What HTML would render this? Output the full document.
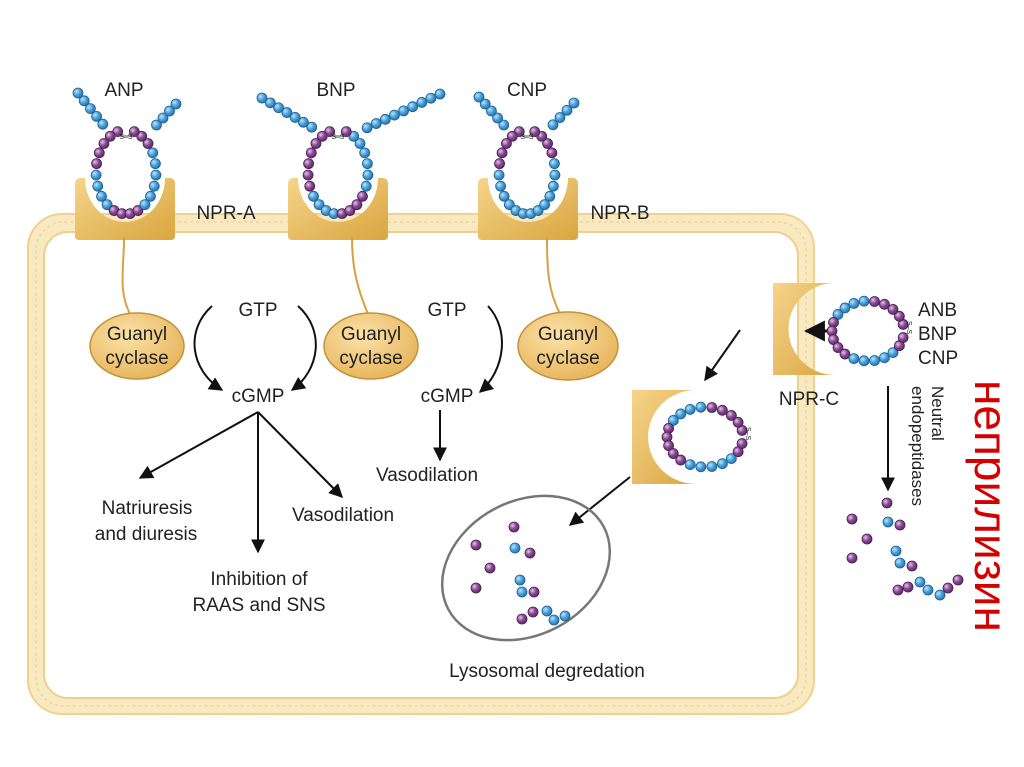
<!DOCTYPE html>
<html><head><meta charset="utf-8"><style>
html,body{margin:0;padding:0;background:#fff;width:1024px;height:767px;overflow:hidden}
svg{display:block}
text{font-family:"Liberation Sans",sans-serif;fill:#222}
</style></head><body>
<svg id="s" width="1024" height="767" viewBox="0 0 1024 767" xmlns="http://www.w3.org/2000/svg">
<defs>
<linearGradient id="g" x1="0" y1="0" x2="1" y2="1"><stop offset="0" stop-color="#f6d48a"/><stop offset="1" stop-color="#d9a640"/></linearGradient>
<radialGradient id="gc" cx="0.4" cy="0.35" r="0.7"><stop offset="0" stop-color="#fbe3a8"/><stop offset="1" stop-color="#e6b35a"/></radialGradient>
<radialGradient id="bb" cx="0.35" cy="0.35" r="0.7"><stop offset="0" stop-color="#bfe6fa"/><stop offset="0.5" stop-color="#4aa3dc"/><stop offset="1" stop-color="#2570a8"/></radialGradient>
<radialGradient id="pb" cx="0.35" cy="0.35" r="0.7"><stop offset="0" stop-color="#e6c6e6"/><stop offset="0.5" stop-color="#8a4a94"/><stop offset="1" stop-color="#5a2a66"/></radialGradient>
<marker id="ar" viewBox="0 0 10 10" refX="9" refY="5" markerWidth="7" markerHeight="7" orient="auto"><path d="M0,0 L10,5 L0,10 z" fill="#111"/></marker>
</defs>
<rect x="28" y="214" width="786" height="500" rx="34" fill="#f9e9c0" stroke="#efd28e" stroke-width="2"/>
<rect x="36" y="222" width="770" height="484" rx="28" fill="none" stroke="#f0d69a" stroke-width="1.5" stroke-dasharray="3 3"/>
<rect x="44" y="232" width="754" height="466" rx="24" fill="#fff" stroke="#efd08a" stroke-width="2"/>
<g id="recs"></g>
<g fill="none" stroke="#d9a040" stroke-width="2">
<path d="M124,237 C124,270 118,290 130,314"/>
<path d="M352,237 C352,270 358,290 368,314"/>
<path d="M547,237 C547,270 548,290 560,314"/>
</g>
<g stroke="#c2923c" stroke-width="1.5" fill="url(#gc)">
<ellipse cx="137" cy="346" rx="47" ry="33"/>
<ellipse cx="371" cy="346" rx="47" ry="33"/>
<ellipse cx="568" cy="346" rx="50" ry="34"/>
</g>
<g font-size="19" text-anchor="middle">
<text x="137" y="340">Guanyl</text><text x="137" y="364">cyclase</text>
<text x="371" y="340">Guanyl</text><text x="371" y="364">cyclase</text>
<text x="568" y="340">Guanyl</text><text x="568" y="364">cyclase</text>
<text x="124" y="96">ANP</text><text x="336" y="96">BNP</text><text x="527" y="96">CNP</text>
<text x="226" y="219">NPR-A</text><text x="620" y="219">NPR-B</text>
<text x="258" y="316">GTP</text><text x="258" y="402">cGMP</text>
<text x="447" y="316">GTP</text><text x="447" y="402">cGMP</text>
<text x="427" y="481">Vasodilation</text>
<text x="147" y="514">Natriuresis</text><text x="146" y="540">and diuresis</text>
<text x="343" y="521">Vasodilation</text>
<text x="259" y="585">Inhibition of</text><text x="259" y="611">RAAS and SNS</text>
<text x="547" y="677">Lysosomal degredation</text>
<text x="809" y="405">NPR-C</text>
</g>
<g font-size="19"><text x="918" y="316">ANB</text><text x="918" y="340">BNP</text><text x="918" y="364">CNP</text></g>
<text transform="translate(932,386) rotate(90)" font-size="17">Neutral</text>
<text transform="translate(912,386) rotate(90)" font-size="17">endopeptidases</text>
<text transform="translate(975,380) rotate(90)" font-size="46" style="fill:#d40000">неприлизин</text>
<g fill="none" stroke="#111" stroke-width="2" marker-end="url(#ar)">
<path d="M212,306 C185,330 190,370 222,390"/>
<path d="M298,306 C325,330 320,370 292,390"/>
<path d="M488,306 C510,330 505,370 480,392"/>
<path d="M258,412 L140,478"/>
<path d="M258,412 L258,552"/>
<path d="M258,412 L342,497"/>
<path d="M440,410 L440,460"/>
<path d="M740,330 L705,380"/>
<path d="M630,477 L570,525"/>
<path d="M888,386 L888,490"/>
</g>
<path d="M835,331 L806,331" stroke="#111" stroke-width="3" marker-end="url(#ar)"/>
<ellipse cx="526" cy="568" rx="88" ry="67" transform="rotate(-28 526 568)" fill="none" stroke="#777" stroke-width="2.5"/>
<g id="beads"></g>
</svg>
<script>
var NS="http://www.w3.org/2000/svg";
function el(t,a,p){var e=document.createElementNS(NS,t);for(var k in a)e.setAttribute(k,a[k]);(p||document.getElementById('beads')).appendChild(e);return e;}
function bead(x,y,c,r){el('circle',{cx:x,cy:y,r:r||5,fill:c=='b'?'url(#bb)':'url(#pb)',stroke:c=='b'?'#1f5f90':'#4a1f55','stroke-width':0.8});}
var R=document.getElementById('recs');
function recUp(cx){el('path',{d:'M'+(cx-50)+',184 Q'+(cx-50)+',178 '+(cx-44)+',178 L'+(cx-40)+',178 A40,44 0 0 0 '+(cx+40)+',178 L'+(cx+44)+',178 Q'+(cx+50)+',178 '+(cx+50)+',184 L'+(cx+50)+',236 Q'+(cx+50)+',240 '+(cx+46)+',240 L'+(cx-46)+',240 Q'+(cx-50)+',240 '+(cx-50)+',236 Z',fill:'url(#g)'},R);}
recUp(125);recUp(338);recUp(528);
function recL(x,y,w,h){el('path',{d:'M'+x+','+y+' L'+(x+w)+','+y+' A'+(w*0.75)+','+(h/2)+' 0 0 0 '+(x+w)+','+(y+h)+' L'+x+','+(y+h)+' Z',fill:'url(#g)'},R);}
recL(773,283,62,92);recL(632,390,64,94);
function pep(cx,top,bot,rx,tl,tr,seq){
  var n=seq.length, cy=(top+bot)/2, ry=(bot-top)/2;
  for(var i=0;i<n;i++){var t=(0.5+0.28/Math.PI)+i/(n-1)*(2-0.56/Math.PI);var ang=Math.PI*t;bead(cx+rx*Math.cos(ang),cy-ry*Math.sin(ang),seq[i]);}
  var y0=top+6;
  el('line',{x1:cx-12,y1:y0,x2:cx+12,y2:y0,stroke:'#555','stroke-width':1});
  el('text',{x:cx,y:y0+3,'font-size':7,'text-anchor':'middle'}).textContent='S–S';
  tl.forEach(function(p){bead(p[0],p[1],'b');});
  tr.forEach(function(p){bead(p[0],p[1],'b');});
}
function line(x0,y0,x1,y1,n){var a=[];for(var i=1;i<=n;i++)a.push([x0+(x1-x0)*i/n,y0+(y1-y0)*i/n]);return a;}
pep(126,130,214,30,line(109,132,78,93,5),line(150,132,176,104,4),'pppppbbbbppppbbbbbbppp');
pep(338,130,214,30,line(320,132,262,98,7),line(358,132,440,94,9),'pppppppbbbbppppbbbbbbp');
pep(527,130,214,28,line(510,132,479,97,5),line(546,132,574,103,4),'pppppbbbbbbbbbbbbbpppp');
function hloop(cx,cy,rx,ry,seq){var n=seq.length;
 for(var i=0;i<n;i++){var t=0.22+i/(n-1)*(2*Math.PI-0.44);bead(cx+rx*Math.cos(t),cy-ry*Math.sin(t),seq[i]);}
 el('text',{transform:'translate('+(cx+rx+3)+','+(cy-10)+') rotate(90)','font-size':7}).textContent='S–S';}
hloop(868,331,36,30,'pppppbbbbpppppbbbbbpp');
hloop(705,437,38,30,'pppppbbbbpppppbbbbbpp');
[[887,503,'p'],[888,522,'b'],[900,525,'p'],[852,519,'p'],[867,539,'p'],[852,558,'p'],[896,551,'b'],[900,563,'b'],[912,566,'p'],[898,590,'p'],[908,587,'p'],[920,582,'b'],[928,590,'b'],[940,595,'b'],[948,588,'p'],[958,580,'p'],
 [514,527,'p'],[476,545,'p'],[515,548,'b'],[530,553,'p'],[490,568,'p'],[476,588,'p'],[520,580,'b'],[522,592,'b'],[534,592,'p'],[522,619,'p'],[533,612,'p'],[547,611,'b'],[554,620,'b'],[565,616,'b']
].forEach(function(b){bead(b[0],b[1],b[2]);});
</script>
</body></html>
